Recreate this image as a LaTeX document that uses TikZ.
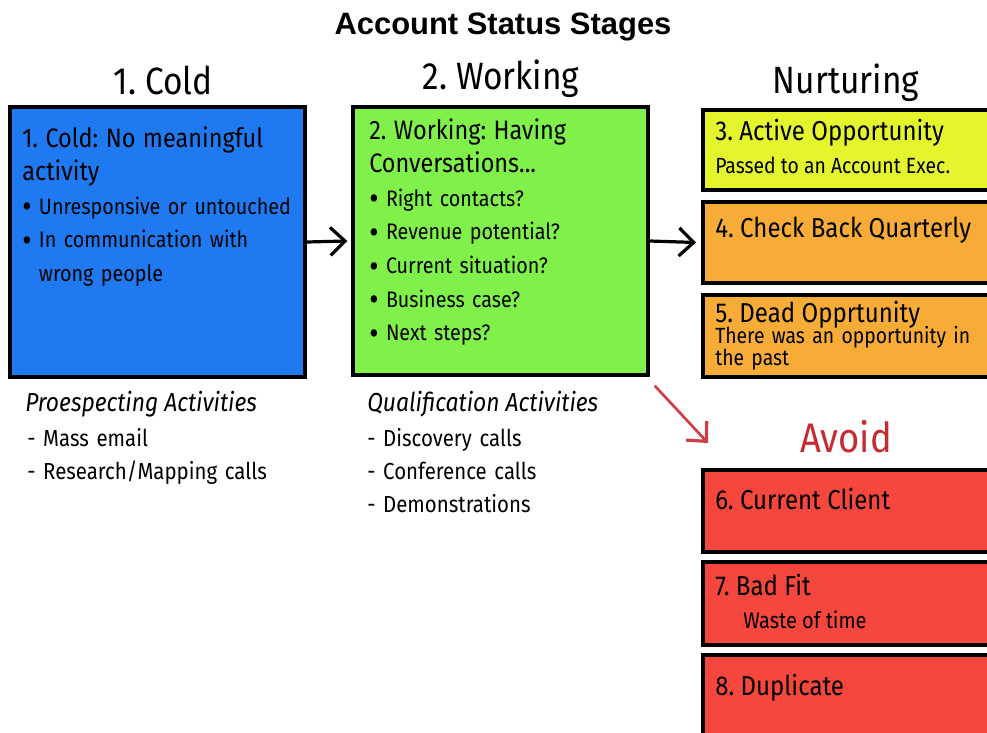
\documentclass[tikz,border=0pt]{standalone}
\usepackage{fontspec}
\setmainfont[FakeStretch=0.88]{Fira Sans}
\newfontfamily\titlefont{Liberation Sans}
\usetikzlibrary{arrows.meta,fit}

\definecolor{coldblue}{HTML}{1F7AF2}
\definecolor{workgreen}{HTML}{80F04A}
\definecolor{activeyellow}{HTML}{E4F52E}
\definecolor{nurtorange}{HTML}{F6AC36}
\definecolor{avoidred}{HTML}{F5473D}
\definecolor{avoidtext}{HTML}{C72A30}

\newcommand\bul{\raisebox{-0.32ex}{\scalebox{1.45}{\textbullet}}~}

\begin{document}
\frenchspacing
\begin{tikzpicture}[
    x=0.75pt, y=-0.75pt,
    box/.style={draw=black, line width=2.5pt, inner sep=0pt},
    boxtxt/.style={anchor=base west, inner sep=0pt, text width=260pt,
        align=left, font=\fontsize{16.8}{25.2}\selectfont},
    headtxt/.style={anchor=base, inner sep=0pt, font=\fontsize{28.5}{30}\selectfont},
    subtxt/.style={anchor=base west, inner sep=0pt, font=\fontsize{20.5}{24}\selectfont},
    listtxt/.style={anchor=base west, inner sep=0pt, text width=240pt,
        align=left, font=\fontsize{17.4}{25}\selectfont},
    flow/.style={-{Straight Barb[length=11pt, width=21pt, line width=2.4pt]}, line width=2.4pt},
]
\clip (0,0) rectangle (987,732);
\fill[white] (0,0) rectangle (987,732);

% Title and column headers
\node[anchor=base, inner sep=0pt, font=\titlefont\bfseries\fontsize{23.2}{26}\selectfont]
    (title) at (503,34) {Account Status Stages};
\node[headtxt] (coldhead) at (163,94) {1. Cold};
\node[headtxt] (workhead) at (501,89) {2. Working};
\node[headtxt] (nurthead) at (846,93) {Nurturing};

% 1. Cold
\node[box, fill=coldblue, fit={(10,107) (305,377)}] (cold) {};
\node[boxtxt] (coldtxt) at (22,147)
    {{\fontsize{20}{25.2}\selectfont 1. Cold: No meaningful\\ activity}\\
     \bul Unresponsive or untouched\\
     \bul In communication with\\
     \hphantom{\bul}wrong people};

% 2. Working
\node[box, fill=workgreen, fit={(353,107) (648,375)}] (work) {};
\node[boxtxt] (worktxt) at (369,139)
    {{\fontsize{20}{25.2}\selectfont 2. Working: Having\\ Conversations...}\\
     \bul Right contacts?\\
     \bul Revenue potential?\\
     \bul Current situation?\\
     \bul Business case?\\
     \bul Next steps?};

% Nurturing stack
\node[box, fill=activeyellow, fit={(703,110) (1000,190)}] (active) {};
\node[subtxt] (activetxt) at (715,140) {3. Active Opportunity};
\node[anchor=base west, inner sep=0pt, font=\fontsize{16.5}{20}\selectfont]
    (activesub) at (715,173) {Passed to an Account Exec.};

\node[box, fill=nurtorange, fit={(703,202) (1000,283)}] (check) {};
\node[subtxt] (checktxt) at (715,237) {4. Check Back Quarterly};

\node[box, fill=nurtorange, fit={(703,295) (1000,377)}] (dead) {};
\node[subtxt] (deadtxt) at (715,322) {5. Dead Opprtunity};
\node[anchor=base west, inner sep=0pt, text width=240pt, align=left,
    font=\fontsize{16.5}{15.5}\selectfont] (deadsub) at (715,343)
    {There was an opportunity in\\ the past};

% Avoid stack
\node[anchor=base, inner sep=0pt, text=avoidtext, font=\fontsize{31}{34}\selectfont]
    (avoid) at (846,452) {Avoid};
\coordinate (avoidtip) at (708,443);

\node[box, fill=avoidred, fit={(703,470) (1000,552)}] (client) {};
\node[subtxt] (clienttxt) at (715,509) {6. Current Client};

\node[box, fill=avoidred, fit={(703,562) (1000,645)}] (badfit) {};
\node[subtxt] (badfittxt) at (715,595) {7. Bad Fit};
\node[anchor=base west, inner sep=0pt, font=\fontsize{17}{20}\selectfont]
    (badfitsub) at (743,628) {Waste of time};

\node[box, fill=avoidred, fit={(703,655) (1000,760)}] (dup) {};
\node[subtxt] (duptxt) at (715,695) {8. Duplicate};

% Activities under the boxes
\node[anchor=base west, inner sep=0pt, font=\itshape\fontsize{19.5}{22}\selectfont]
    (prosphead) at (25,411) {Proespecting Activities};
\node[listtxt] (prosplist) at (27,446)
    {- Mass email\\ - Research/Mapping calls};
\node[anchor=base west, inner sep=0pt, font=\itshape\fontsize{19.5}{22}\selectfont]
    (qualhead) at (367,411) {Qualification Activities};
\node[listtxt] (quallist) at (367,446)
    {- Discovery calls\\ - Conference calls\\ - Demonstrations};

% Connectors
\draw[flow] (cold.east) -- ([xshift=-3]work.west);
\draw[flow] (work.east) -- ([xshift=-4]check.west);
\draw[flow, avoidtext!90, line width=2pt] (work.south east) ++(5,9) -- (avoidtip);

\end{tikzpicture}
\end{document}
